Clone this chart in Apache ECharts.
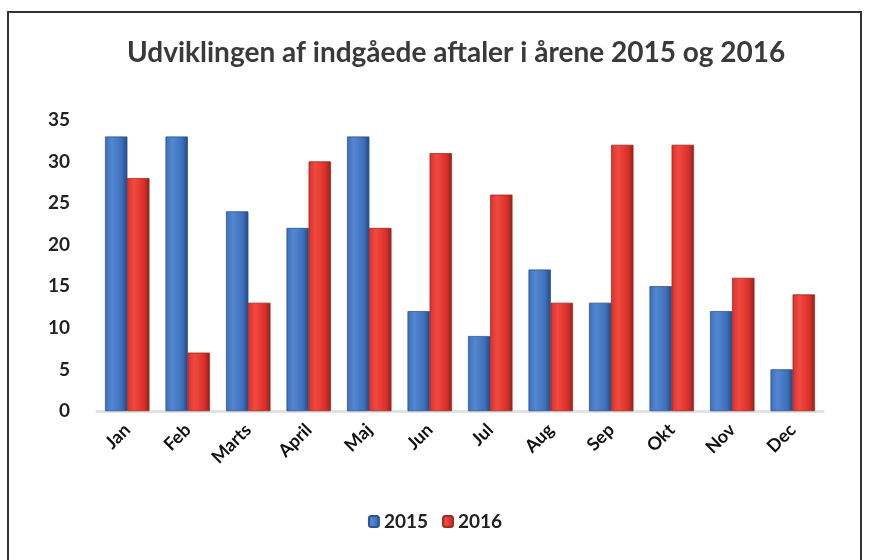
<!DOCTYPE html>
<html>
<head>
<meta charset="utf-8">
<script src="https://cdn.jsdelivr.net/npm/echarts@6/dist/echarts.min.js"></script>
<style>
    html, body { margin: 0; padding: 0; background: #fff; }
    #frame { position: absolute; left: 7px; top: 11px; width: 855px; height: 600px; border: 2px solid #333; border-bottom: none; box-sizing: border-box; }
    #main { position: absolute; left: 0; top: 0; width: 870px; height: 560px; }
</style>
</head>
<body>
<div id="frame"></div>
<div id="main"></div>
<script>
// 数据
var months = ['Jan', 'Feb', 'Marts', 'April', 'Maj', 'Jun', 'Jul', 'Aug', 'Sep', 'Okt', 'Nov', 'Dec'];
var values2015 = [33, 33, 24, 22, 33, 12, 9, 17, 13, 15, 12, 5];
var values2016 = [28, 7, 13, 30, 22, 31, 26, 13, 32, 32, 16, 14];
var yTicks = [0, 5, 10, 15, 20, 25, 30, 35];

// 柱子渐变色
function barColor(light, mid, dark) {
    return new echarts.graphic.LinearGradient(0, 0, 1, 0, [
        { offset: 0, color: mid },
        { offset: 0.3, color: light },
        { offset: 0.75, color: mid },
        { offset: 1, color: dark }
    ]);
}

var chart = echarts.init(document.getElementById('main'));
var option = {
    title: {
        text: 'Udviklingen af indgåede aftaler i årene 2015 og 2016',
        left: 122,
        top: 34,
        textStyle: { fontFamily: 'Lato', fontWeight: 'bold', fontSize: 28, color: '#3a3a3a' }
    },
    legend: {
        bottom: 24,
        left: 'center',
        itemWidth: 10,
        itemHeight: 11,
        itemGap: 14,
        textStyle: { fontFamily: 'Lato', fontWeight: 'bold', fontSize: 19, color: '#222' },
        data: ['2015', '2016']
    },
    grid: { left: 97, right: 47, top: 120, bottom: 149 },
    xAxis: {
        type: 'category',
        data: months,
        axisLine: { show: true, lineStyle: { color: '#e2e2e2', width: 3 } },
        axisTick: { show: false },
        axisLabel: { rotate: 45, margin: 16, fontFamily: 'Lato', fontWeight: 'bold', fontSize: 18, color: '#111' }
    },
    yAxis: {
        type: 'value',
        min: yTicks[0],
        max: yTicks[yTicks.length - 1],
        interval: 5,
        splitLine: { show: false },
        axisLine: { show: false },
        axisTick: { show: false },
        axisLabel: { margin: 27, fontFamily: 'Lato', fontWeight: 'bold', fontSize: 19, color: '#222' }
    },
    series: [{
        name: '2015',
        type: 'bar',
        data: values2015,
        barGap: '0%',
        barCategoryGap: '27%',
        itemStyle: { color: barColor('#5487d2', '#3d6fba', '#24497f'), borderColor: '#2c5592', borderWidth: 0.5 }
    }, {
        name: '2016',
        type: 'bar',
        data: values2016,
        itemStyle: { color: barColor('#f04a40', '#dc3029', '#8e2420'), borderColor: '#a02a25', borderWidth: 0.5 }
    }]
};
chart.setOption(option);
</script>
</body>
</html>
